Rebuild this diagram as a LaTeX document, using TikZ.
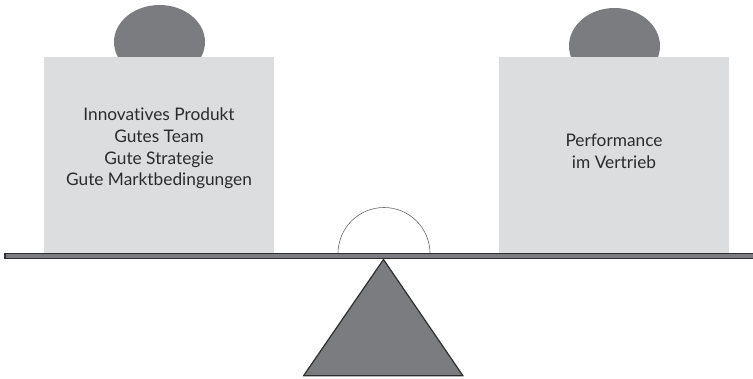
\documentclass[tikz,border=0pt]{standalone}
\usepackage{fontspec}
\setmainfont{Lato}[Ligatures={NoCommon}]
\definecolor{boxgray}{HTML}{DCDDDF}
\definecolor{headgray}{HTML}{7B7C80}
\definecolor{linegray}{HTML}{2E2E2E}
\definecolor{txt}{HTML}{2B2B2B}
\begin{document}
\begin{tikzpicture}[x=1pt,y=-1pt,
  block/.style={fill=boxgray,draw=none,minimum width=230,minimum height=196,inner sep=0pt,anchor=north west},
  label/.style={align=center,text=txt,font=\fontsize{17.3}{21.7}\selectfont,inner sep=0pt}]
\useasboundingbox (0,0) rectangle (753,378);
% heads
\fill[headgray] (159.5,42) ellipse [x radius=45.5,y radius=37];
\fill[headgray] (614.5,46) ellipse [x radius=45.5,y radius=38];
% boxes
\node[block] (lbox) at (44,57) {};
\node[block] (rbox) at (499,57) {};
\node[label] (ltext) at (159,148.5) {Innovatives Produkt\\Gutes Team\\Gute Strategie\\Gute Marktbedingungen};
\node[label] (rtext) at (614,151) {Performance\\im Vertrieb};
% semicircle
\draw[gray!80!black,line width=0.6] (338,253.5) arc[start angle=180,end angle=360,radius=46];
% beam
\draw[linegray,fill=headgray,line width=1.2] (5,253.6) rectangle (760,258.8);
% fulcrum
\draw[linegray,fill=headgray,line width=1.2,line join=round] (383.5,259.5) -- (463,375.8) -- (303.5,375.8) -- cycle;
\end{tikzpicture}
\end{document}
